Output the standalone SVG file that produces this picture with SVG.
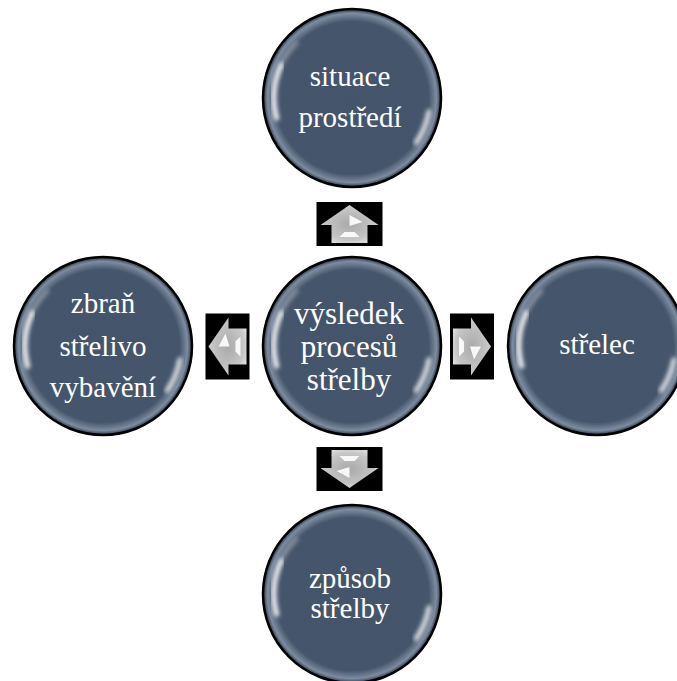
<svg xmlns="http://www.w3.org/2000/svg" xmlns:xlink="http://www.w3.org/1999/xlink" width="677" height="681" viewBox="0 0 677 681">
<style>
.lbl{font-family:"Liberation Serif","DejaVu Serif",serif;font-size:29px;fill:#ffffff;text-anchor:middle}
.big{font-size:31px}
.abox{fill:#000000}
.arr{fill:url(#arrG)}
.fac{fill:#ffffff;opacity:0.9}
</style>
<defs>
<radialGradient id="bub" cx="0.5" cy="0.5" r="0.5">
<stop offset="0" stop-color="#44546A"/>
<stop offset="0.86" stop-color="#45556B"/>
<stop offset="0.95" stop-color="#7d8ca0"/>
<stop offset="1" stop-color="#2c3645"/>
</radialGradient>
<radialGradient id="arrG" cx="0.5" cy="0.5" r="0.6">
<stop offset="0" stop-color="#a9a9a9"/>
<stop offset="0.7" stop-color="#c6c6c6"/>
<stop offset="1" stop-color="#e4e4e4"/>
</radialGradient>
<filter id="soft" x="-30%" y="-30%" width="160%" height="160%">
<feGaussianBlur stdDeviation="2"/>
</filter>
<g id="bubble">
<circle r="89" fill="url(#bub)" stroke="#000" stroke-width="2.5"/>
<path d="M -70.7 -33 A 78 78 0 0 0 -75.3 20.2" fill="none" stroke="#fff" stroke-width="5" stroke-linecap="round" filter="url(#soft)" opacity="0.95"/>
<path d="M -55 -55 A 78 78 0 0 0 -70.7 -33" fill="none" stroke="#fff" stroke-width="3" stroke-linecap="round" filter="url(#soft)" opacity="0.45"/>
<path d="M 76.8 13.5 A 78 78 0 0 1 63.9 44.7" fill="none" stroke="#fff" stroke-width="4.5" stroke-linecap="round" filter="url(#soft)" opacity="0.85"/>
</g>
<g id="arrow">
<rect class="abox" x="-33" y="-22" width="66" height="44"/>
<polygon class="arr" points="0,-19 29,1 18,1 18,19 -18,19 -18,1 -29,1"/>
<polygon class="fac" points="0,-9 13,-2 0,2"/>
<polygon class="fac" points="-5,8 5,8 10,13 -10,13"/>
</g>
</defs>

<g id="connectors">
<use xlink:href="#arrow" transform="translate(349.5,224)"/>
<use xlink:href="#arrow" transform="translate(472,346.5) rotate(90)"/>
<use xlink:href="#arrow" transform="translate(349.5,469) rotate(180)"/>
<use xlink:href="#arrow" transform="translate(227.5,346.5) rotate(-90)"/>
</g>

<g id="node-top">
<use xlink:href="#bubble" transform="translate(352,98)"/>
<text class="lbl" x="350" y="86">situace</text>
<text class="lbl" x="350" y="127">prostředí</text>
</g>

<g id="node-center">
<use xlink:href="#bubble" transform="translate(352,346)"/>
<text class="lbl big" x="349" y="324">výsledek</text>
<text class="lbl big" x="349" y="357">procesů</text>
<text class="lbl big" x="349" y="390">střelby</text>
</g>

<g id="node-left">
<use xlink:href="#bubble" transform="translate(103,346)"/>
<text class="lbl" x="103" y="313">zbraň</text>
<text class="lbl" x="103" y="356">střelivo</text>
<text class="lbl" x="103" y="397">vybavění</text>
</g>

<g id="node-right">
<use xlink:href="#bubble" transform="translate(597,346)"/>
<text class="lbl" x="597" y="354">střelec</text>
</g>

<g id="node-bottom">
<use xlink:href="#bubble" transform="translate(352,594)"/>
<text class="lbl" x="350" y="588">způsob</text>
<text class="lbl" x="350" y="618">střelby</text>
</g>
</svg>
